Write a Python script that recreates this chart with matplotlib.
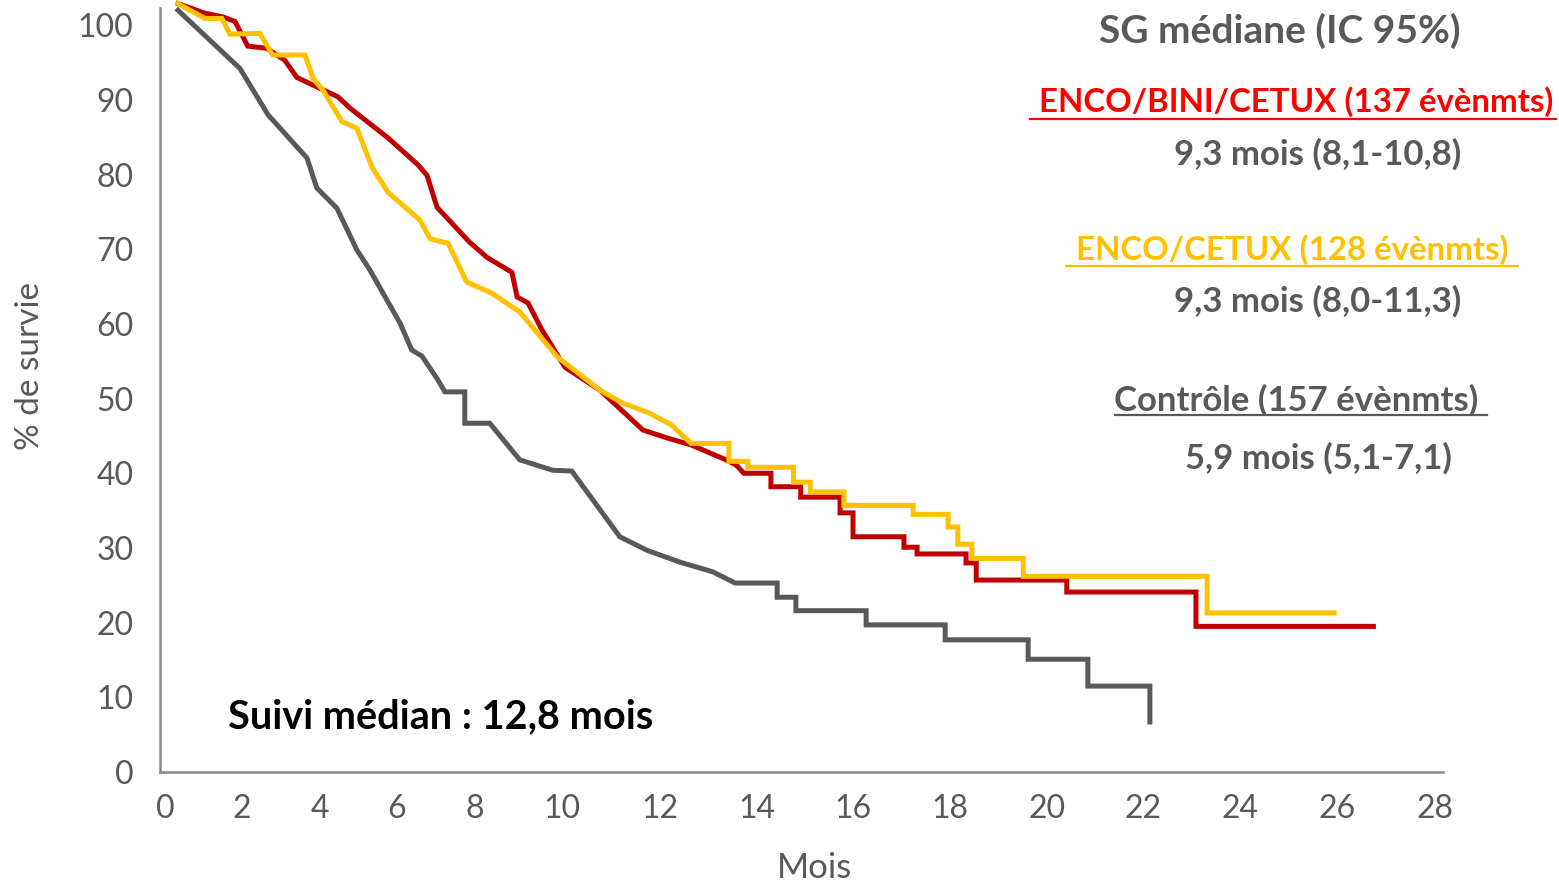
import numpy as np
import matplotlib
matplotlib.use("Agg")
import matplotlib.pyplot as plt
from matplotlib.lines import Line2D

# ------------------------------------------------------------
# Données (mois, % de survie)
# ------------------------------------------------------------
enco_bini_mois = [0.34, 1.04, 1.51, 1.82, 2.15, 2.64, 3.10, 3.41, 4.47, 4.78, 5.77, 6.54,
                  6.77, 7.03, 7.87, 8.28, 8.85, 8.97, 9.22, 9.54, 10.06, 10.78, 11.65,
                  12.16, 12.64, 13.36, 13.57, 13.73, 14.29, 14.29, 14.91, 14.91, 15.73,
                  15.73, 16.0, 16.0, 17.05, 17.05, 17.32, 17.32, 18.33, 18.33, 18.54,
                  18.54, 20.41, 20.41, 23.09, 23.09, 26.74]
enco_bini_surv = [102.9, 101.6, 101.1, 100.5, 97.2, 96.9, 95.3, 93.0, 90.4, 88.9, 84.9, 81.3,
                  79.9, 75.6, 70.9, 68.9, 66.9, 63.6, 62.8, 59.2, 54.2, 51.1, 45.8,
                  44.7, 43.8, 41.8, 41.1, 40.0, 40.0, 38.2, 38.2, 36.8, 36.8,
                  34.7, 34.7, 31.5, 31.5, 30.1, 30.1, 29.2, 29.2, 28.0, 28.0,
                  25.7, 25.7, 24.1, 24.1, 19.5, 19.5]

enco_mois = [0.34, 1.04, 1.48, 1.69, 2.46, 2.79, 3.62, 3.82, 4.08, 4.57, 4.96, 5.35, 5.77,
             6.59, 6.85, 7.31, 7.79, 8.39, 9.03, 9.89, 10.78, 11.24, 11.77, 12.23, 12.64,
             13.42, 13.42, 13.81, 13.81, 14.76, 14.76, 15.11, 15.11, 15.81, 15.81, 17.24,
             17.24, 17.96, 17.96, 18.16, 18.16, 18.45, 18.45, 19.51, 19.51, 23.32, 23.32,
             25.94]
enco_surv = [102.9, 100.9, 100.9, 98.8, 98.9, 96.0, 96.0, 92.9, 91.3, 87.1, 86.2, 81.0, 77.6,
             73.9, 71.4, 70.8, 65.6, 64.1, 61.6, 55.6, 51.1, 49.4, 48.1, 46.5, 44.0,
             44.0, 41.6, 41.6, 40.8, 40.8, 38.8, 38.8, 37.5, 37.5, 35.7, 35.7,
             34.5, 34.5, 32.8, 32.8, 30.5, 30.5, 28.6, 28.6, 26.2, 26.2, 21.3,
             21.3]

controle_mois = [0.34, 1.95, 2.67, 3.67, 3.92, 4.44, 4.96, 5.30, 5.74, 6.08, 6.38, 6.64, 7.05,
                 7.23, 7.74, 7.74, 8.34, 9.03, 9.79, 10.20, 11.18, 11.73, 12.41, 13.09,
                 13.55, 14.42, 14.42, 14.81, 14.81, 16.27, 16.27, 17.90, 17.90, 19.61,
                 19.61, 20.85, 20.85, 22.14, 22.14]
controle_surv = [102.0, 94.2, 88.0, 82.2, 78.2, 75.5, 69.9, 67.2, 63.2, 60.1, 56.5, 55.7, 52.5,
                 50.9, 50.9, 46.7, 46.7, 41.8, 40.4, 40.3, 31.5, 29.7, 28.1, 26.8,
                 25.3, 25.3, 23.4, 23.4, 21.6, 21.6, 19.7, 19.7, 17.7, 17.7,
                 15.1, 15.1, 11.5, 11.5, 6.7]

x_ticks = list(range(0, 29, 2))
y_ticks = list(range(0, 101, 10))

COL_RED = "#C00000"
COL_YEL = "#FFC000"
COL_GRAY = "#595959"
FONT = ["Lato", "DejaVu Sans"]

plt.rcParams['font.family'] = FONT

# axe x non régulier comme dans la figure d'origine (graduations posées à la main)
# position relative de chaque graduation (en pixels de la figure source)
tick_pos = [127.5, 165, 242, 320, 397, 475, 562, 660, 757, 853, 950, 1047, 1143, 1240,
            1337, 1435, 1484]
tick_val = [-1] + x_ticks + [29]


def fwd(x):
    return np.interp(np.asarray(x, dtype=float), tick_val, tick_pos)


def inv(x):
    return np.interp(np.asarray(x, dtype=float), tick_pos, tick_val)


W, H = 1559, 883
fig = plt.figure(figsize=(W / 100, H / 100), dpi=100)
ax = fig.add_axes([160 / W, 1 - 772 / H, (1443 - 160) / W, (772 - 8) / H])
ax.set_xscale('function', functions=(fwd, inv))
ax.set_xlim(-0.13, 28.16)
ax.set_ylim(0, 102.3)

lw = 3.6
ax.plot(controle_mois, controle_surv, color=COL_GRAY, lw=lw, clip_on=False,
        solid_joinstyle='miter', zorder=2)
ax.plot(enco_bini_mois, enco_bini_surv, color=COL_RED, lw=lw, clip_on=False,
        solid_joinstyle='miter', zorder=3)
ax.plot(enco_mois, enco_surv, color=COL_YEL, lw=lw, clip_on=False,
        solid_joinstyle='miter', zorder=4)

for s in ['top', 'right']:
    ax.spines[s].set_visible(False)
for s in ['left', 'bottom']:
    ax.spines[s].set_color("#898989")
    ax.spines[s].set_linewidth(1.8)

ax.set_xticks(x_ticks)
ax.set_xticklabels([str(t) for t in x_ticks])
ax.set_yticks(y_ticks)
ax.set_yticklabels([str(t) for t in y_ticks])
ax.tick_params(axis='both', length=0, labelsize=23, labelcolor=COL_GRAY)
ax.tick_params(axis='x', pad=16)
ax.tick_params(axis='y', pad=19)
ax.minorticks_off()

fig.text(815 / W, 1 - 868 / H, "Mois", ha='center', va='center', fontsize=25, color=COL_GRAY)
fig.text(30 / W, 1 - 366 / H, "% de survie", ha='center', va='center', rotation=90,
         fontsize=24, color=COL_GRAY)

fig.text(228 / W, 1 - 717 / H, "Suivi médian : 12,8 mois", ha='left', va='center',
         fontsize=28.5, fontweight='bold', color='black')


# bloc de texte à droite
def right_text(x_right, y_center, txt, color, size, underline=None):
    t = fig.text(x_right / W, 1 - y_center / H, txt, ha='right', va='center',
                 fontsize=size, fontweight='bold', color=color)
    if underline is not None:
        x0, x1, yu = underline
        fig.add_artist(Line2D([x0 / W, x1 / W], [1 - yu / H, 1 - yu / H],
                              transform=fig.transFigure, color=color, lw=1.6))
    return t


right_text(1461, 31, "SG médiane (IC 95%)", COL_GRAY, 28)
right_text(1553, 102, "ENCO/BINI/CETUX (137 évènmts)", "#FF0000", 23.8, (1030, 1556, 119))
right_text(1461, 154, "9,3 mois (8,1-10,8)", COL_GRAY, 25)
right_text(1508, 250, "ENCO/CETUX (128 évènmts)", COL_YEL, 23.8, (1066, 1518, 266))
right_text(1461, 301, "9,3 mois (8,0-11,3)", COL_GRAY, 25)
right_text(1478, 400, "Contrôle (157 évènmts)", COL_GRAY, 25, (1115, 1487, 415))
right_text(1452, 458, "5,9 mois (5,1-7,1)", COL_GRAY, 25)

fig.savefig("out.png", dpi=100)
